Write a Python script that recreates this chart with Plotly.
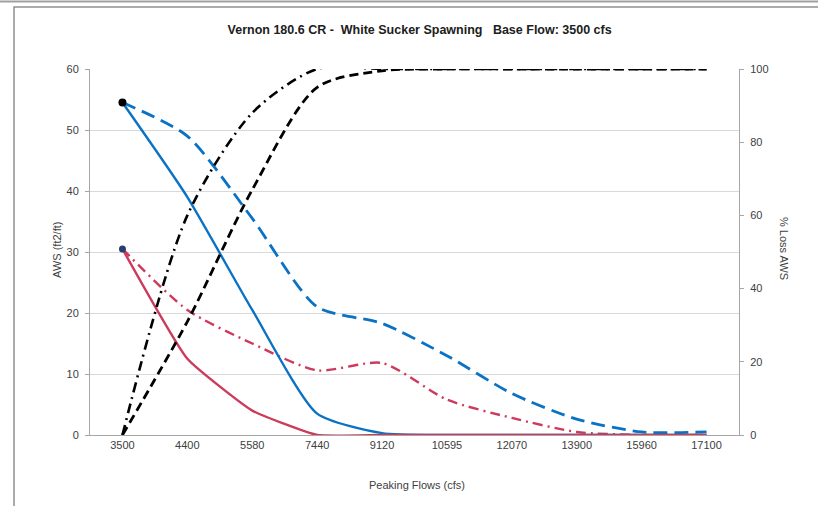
import plotly.graph_objects as go

flows = ["3500", "4400", "5580", "7440", "9120", "10595", "12070", "13900", "15960", "17100"]

aws_blue_solid = [54.5, 39.0, 20.5, 3.5, 0.3, 0.0, 0.0, 0.0, 0.0, 0.0]
aws_blue_dashed = [54.5, 49.0, 35.5, 21.0, 18.3, 13.0, 6.8, 2.6, 0.5, 0.5]
aws_red_solid = [30.5, 12.5, 4.0, 0.0, 0.0, 0.0, 0.0, 0.0, 0.0, 0.0]
aws_red_dashdot = [30.5, 20.5, 15.0, 10.6, 11.8, 5.8, 2.8, 0.5, 0.0, 0.0]
loss_dashdot = [0, 60, 88, 100, 100, 100, 100, 100, 100, 100]
loss_dashed = [0, 31, 67, 95, 99.5, 100, 100, 100, 100, 100]

BLUE = "#0A72C4"
RED = "#CC3A5C"
FONT = "Liberation Sans, Arial, sans-serif"
SM = 0.6

fig = go.Figure()

fig.add_trace(go.Scatter(x=flows, y=loss_dashdot, yaxis="y2", mode="lines",
                         line=dict(color="black", width=2.6, dash="10px,5px,2px,5px", shape="spline", smoothing=0.8)))
fig.add_trace(go.Scatter(x=flows, y=loss_dashed, yaxis="y2", mode="lines",
                         line=dict(color="black", width=2.8, dash="9px,5px", shape="spline", smoothing=0.8)))
fig.add_trace(go.Scatter(x=flows, y=aws_blue_dashed, mode="lines",
                         line=dict(color=BLUE, width=2.8, dash="14px,7px", shape="spline", smoothing=0.7)))
fig.add_trace(go.Scatter(x=flows, y=aws_red_dashdot, mode="lines",
                         line=dict(color=RED, width=2.4, dash="10px,5px,2px,5px", shape="spline", smoothing=0.7)))
fig.add_trace(go.Scatter(x=flows, y=aws_blue_solid, mode="lines",
                         line=dict(color=BLUE, width=2.4, shape="spline", smoothing=SM)))
fig.add_trace(go.Scatter(x=flows, y=aws_red_solid, mode="lines",
                         line=dict(color=RED, width=2.4, shape="spline", smoothing=0.4)))
fig.add_trace(go.Scatter(x=flows[:1], y=aws_blue_solid[:1], mode="markers",
                         marker=dict(color="black", size=8)))
fig.add_trace(go.Scatter(x=flows[:1], y=aws_red_solid[:1], mode="markers",
                         marker=dict(color="#24406E", size=7)))

fig.update_layout(
    width=818, height=506,
    margin=dict(l=90, r=79, t=69, b=71),
    paper_bgcolor="white", plot_bgcolor="white",
    showlegend=False, hovermode=False,
    font=dict(family=FONT, size=11, color="#404040"),
    title=dict(text="<b>Vernon 180.6 CR -  White Sucker Spawning   Base Flow: 3500 cfs</b>",
               x=0.513, xanchor="center", y=0.941, yanchor="middle",
               font=dict(family=FONT, size=12.5, color="#202020")),
    xaxis=dict(type="category", range=[-0.5, 9.5], showgrid=False,
               showline=True, linecolor="#A6A6A6", linewidth=1,
               ticks="", tickfont=dict(size=11, color="#404040")),
    yaxis=dict(range=[0, 60], dtick=10, showgrid=True, gridcolor="#D9D9D9",
               showline=True, linecolor="#A6A6A6", linewidth=1,
               ticks="outside", ticklen=4, tickcolor="#A6A6A6",
               zeroline=False, tickfont=dict(size=11, color="#404040"),
               ticklabelstandoff=4),
    yaxis2=dict(range=[0, 100], dtick=20, overlaying="y", side="right",
                showgrid=False, showline=True, linecolor="#A6A6A6", linewidth=1,
                ticks="outside", ticklen=4, tickcolor="#A6A6A6",
                zeroline=False, tickfont=dict(size=11, color="#404040"),
                ticklabelstandoff=4),
)

# axis titles
fig.add_annotation(text="AWS (ft2/ft)", xref="paper", yref="paper",
                   x=(57 - 90) / 649, y=(435 - 250) / 366, textangle=-90,
                   xanchor="center", yanchor="middle",
                   showarrow=False, font=dict(size=11, color="#404040"))
fig.add_annotation(text="% Loss AWS", xref="paper", yref="paper",
                   x=(784 - 90) / 649, y=(435 - 248) / 366, textangle=90,
                   xanchor="center", yanchor="middle",
                   showarrow=False, font=dict(size=11, color="#404040"))
fig.add_annotation(text="Peaking Flows (cfs)", xref="paper", yref="paper",
                   x=(417 - 90) / 649, y=(435 - 485) / 366,
                   xanchor="center", yanchor="middle",
                   showarrow=False, font=dict(size=11, color="#404040"))

# chart frame
fig.add_shape(type="line", xref="paper", yref="paper",
              x0=(0 - 90) / 649, x1=(818 - 90) / 649,
              y0=(435 - 1.5) / 366, y1=(435 - 1.5) / 366,
              line=dict(color="#A0A0A0", width=2))
fig.add_shape(type="rect", xref="paper", yref="paper",
              x0=(14 - 90) / 649, x1=(830 - 90) / 649,
              y0=(435 - 520) / 366, y1=(435 - 7) / 366,
              line=dict(color="#909090", width=1.5))

fig.write_html("out.html", config={"displayModeBar": False},
               post_script="document.body.style.margin='0';document.body.style.overflow='hidden';")
